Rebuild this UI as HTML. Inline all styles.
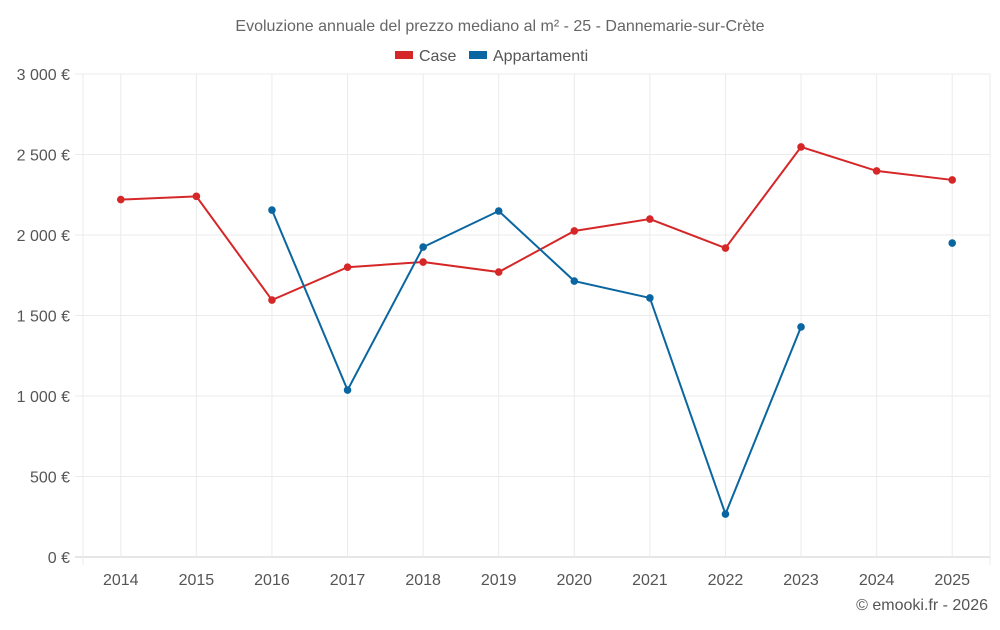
<!DOCTYPE html>
<html><head><meta charset="utf-8"><style>
body{margin:0;background:#fff;font-family:"Liberation Sans",sans-serif;}
svg text{font-family:"Liberation Sans",sans-serif;}
</style></head><body>
<svg id="chart" width="1000" height="625">
<text x="500" y="31" text-anchor="middle" font-size="16" fill="#666">Evoluzione annuale del prezzo mediano al m² - 25 - Dannemarie-sur-Crète</text>
<g>
<g><rect x="395" y="51" width="18" height="8" fill="#d62728"/><text x="419" y="61" font-size="16" fill="#555">Case</text></g>
<g><rect x="469" y="51" width="18" height="8" fill="#0a66a0"/><text x="493" y="61" font-size="16" fill="#555">Appartamenti</text></g>
</g>
<g id="grid"></g><g id="axes"></g><g id="series"></g>
<text x="988" y="610" text-anchor="end" font-size="16" fill="#555">© emooki.fr - 2026</text>
</svg>
<script>
const years=[2014,2015,2016,2017,2018,2019,2020,2021,2022,2023,2024,2025];
const caseValues=[2220,2240,1596,1800,1832,1770,2025,2099,1919,2547,2398,2342];
const apptValues=[null,null,2155,1037,1925,2149,1714,1609,267,1429,null,1950];
const yTicks=[0,500,1000,1500,2000,2500,3000];
const yTickLabels=["0 €","500 €","1 000 €","1 500 €","2 000 €","2 500 €","3 000 €"];
const L=83,R=990,T=74,B=557,NS="http://www.w3.org/2000/svg";
const bw=(R-L)/years.length;
const xs=i=>L+bw*(i+0.5);
const ys=v=>B-(v/3000)*(B-T);
function mk(t,a,p){const e=document.createElementNS(NS,t);for(const k in a)e.setAttribute(k,a[k]);p.appendChild(e);return e;}
const grid=document.getElementById('grid'),axes=document.getElementById('axes'),ser=document.getElementById('series');
yTicks.forEach((v,i)=>{
 const l=mk('line',{x1:L-8,x2:R,y1:ys(v),y2:ys(v),stroke:i==0?'#ccc':'#ebebeb'},grid);
 
 
 const t=mk('text',{x:70,y:ys(v)+6,'text-anchor':'end','font-size':16,fill:'#555'},axes);
 t.textContent=yTickLabels[i];
 
 
});
[L,R].forEach(x=>{
 const l=mk('line',{x1:x,x2:x,y1:T,y2:B+8,stroke:'#ebebeb'},grid);
 
 
});
years.forEach((y,i)=>{
 const l=mk('line',{x1:xs(i),x2:xs(i),y1:T,y2:B,stroke:'#ebebeb'},grid);
 
 
 const t=mk('text',{x:xs(i),y:585,'text-anchor':'middle','font-size':16,fill:'#555'},axes);
 t.textContent=y;
 
 
});
function draw(vals,color,name){
 let segs=[],cur=[];
 vals.forEach((v,i)=>{if(v==null){if(cur.length)segs.push(cur);cur=[];}else cur.push([xs(i),ys(v)]);});
 if(cur.length)segs.push(cur);
 segs.forEach(s=>{if(s.length>1){const p=mk('polyline',{points:s.map(q=>q.join(',')).join(' '),fill:'none',stroke:color,'stroke-width':2},ser);
  
  }});
 vals.forEach((v,i)=>{if(v==null)return;const c=mk('circle',{cx:xs(i),cy:ys(v),r:3.8,fill:color},ser);
  
  });
}
draw(caseValues,'#d62728','case');
draw(apptValues,'#0a66a0','appartamenti');
</script>
</body></html>
